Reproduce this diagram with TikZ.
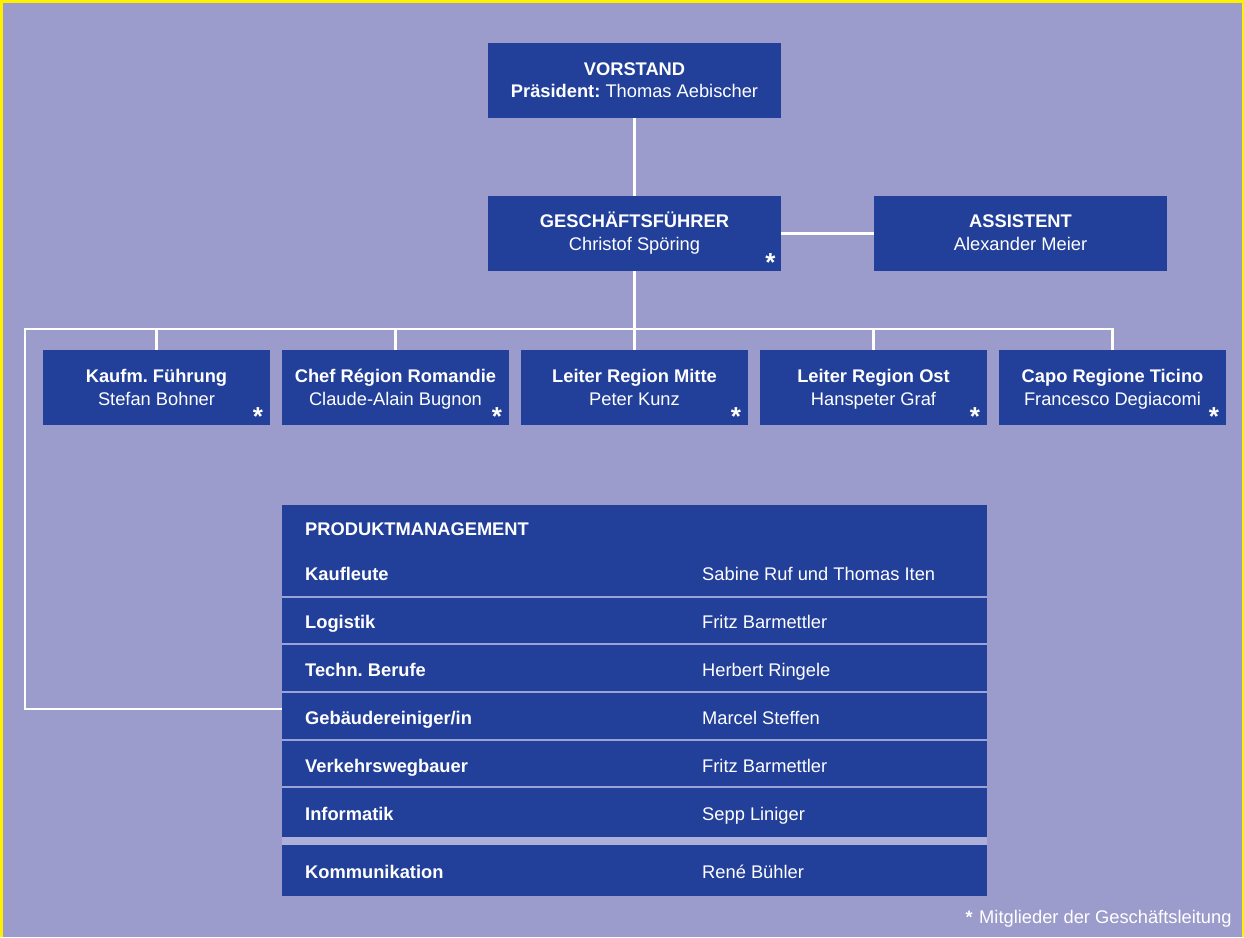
\documentclass[tikz,border=0pt]{standalone}
\usepackage{fontspec}
\setmainfont{Liberation Sans}
\frenchspacing
\definecolor{bgc}{HTML}{9B9BCC}
\definecolor{boxc}{HTML}{22409A}
\definecolor{sepc}{HTML}{9AA3D8}
\definecolor{bandc}{HTML}{ADB0D8}
\definecolor{yel}{HTML}{FFF000}
\tikzset{
  box/.style={fill=boxc, inner sep=0pt, minimum height=75pt},
  bigbox/.style={box, minimum width=293pt},
  smallbox/.style={box, minimum width=227pt},
  txt/.style={text=white, inner sep=0pt, anchor=base, font=\fontsize{18.3}{22}\selectfont\frenchspacing},
  ttl/.style={txt, font=\fontsize{18.3}{22}\selectfont\bfseries\frenchspacing},
  tl/.style={ttl, anchor=base west},
  tr/.style={txt, anchor=base west},
  star/.style={text=white, inner sep=0pt, font=\fontsize{26}{26}\selectfont\bfseries},
  conn/.style={draw=white, line width=2.6pt},
  sepline/.style={draw=sepc, line width=1.8pt}
}
\begin{document}
\begin{tikzpicture}[x=1pt,y=-1pt]
\useasboundingbox (0,0) rectangle (1244,937);
\fill[bgc] (0,0) rectangle (1244,937);
\fill[yel] (0,0) rectangle (1244,3);
\fill[yel] (0,0) rectangle (3,937);
\fill[yel] (1242,0) rectangle (1244,937);

% top boxes
\node[bigbox] (vs) at (634.5,80.5) {};
\node[ttl] (vsT) at (634.5,75) {VORSTAND};
\node[txt] (vsN) at (634.5,97.5) {\textbf{Präsident:} Thomas Aebischer};

\node[bigbox] (gf) at (634.5,233.5) {};
\node[ttl] (gfT) at (634.5,227.5) {GESCHÄFTSFÜHRER};
\node[txt] (gfN) at (634.5,250) {Christof Spöring};
\node[star] (gfS) at (770.5,263) {*};

\node[bigbox] (as) at (1020.5,233.5) {};
\node[ttl] (asT) at (1020.5,227.5) {ASSISTENT};
\node[txt] (asN) at (1020.5,250) {Alexander Meier};

% second row
\node[smallbox] (k1) at (156.5,387.5) {};
\node[ttl] (k1T) at (156.5,382) {Kaufm. Führung};
\node[txt] (k1N) at (156.5,405.5) {Stefan Bohner};
\node[star] (k1S) at (258,417) {*};

\node[smallbox] (k2) at (395.5,387.5) {};
\node[ttl] (k2T) at (395.5,382) {Chef Région Romandie};
\node[txt] (k2N) at (395.5,405.5) {Claude-Alain Bugnon};
\node[star] (k2S) at (497,417) {*};

\node[smallbox] (k3) at (634.5,387.5) {};
\node[ttl] (k3T) at (634.5,382) {Leiter Region Mitte};
\node[txt] (k3N) at (634.5,405.5) {Peter Kunz};
\node[star] (k3S) at (736,417) {*};

\node[smallbox] (k4) at (873.5,387.5) {};
\node[ttl] (k4T) at (873.5,382) {Leiter Region Ost};
\node[txt] (k4N) at (873.5,405.5) {Hanspeter Graf};
\node[star] (k4S) at (975,417) {*};

\node[smallbox] (k5) at (1112.5,387.5) {};
\node[ttl] (k5T) at (1112.5,382) {Capo Regione Ticino};
\node[txt] (k5N) at (1112.5,405.5) {Francesco Degiacomi};
\node[star] (k5S) at (1214,417) {*};

% product management table
\node[box, minimum width=705pt, minimum height=391pt] (pm) at (634.5,700.5) {};
\foreach \d in {92,139,187,235,282}{
  \draw[sepline] ([yshift=-\d pt]pm.north west) -- ([yshift=-\d pt]pm.north east);
}
\fill[bandc] ([yshift=-332pt]pm.north west) rectangle ([yshift=-340pt]pm.north east);

\node[tl] (h0) at (305,535) {PRODUKTMANAGEMENT};
\node[tl] (a1) at (305,580) {Kaufleute};
\node[tr] (b1) at (702,580) {Sabine Ruf und Thomas Iten};
\node[tl] (a2) at (305,628) {Logistik};
\node[tr] (b2) at (702,628) {Fritz Barmettler};
\node[tl] (a3) at (305,676) {Techn. Berufe};
\node[tr] (b3) at (702,676) {Herbert Ringele};
\node[tl] (a4) at (305,724) {Gebäudereiniger/in};
\node[tr] (b4) at (702,724) {Marcel Steffen};
\node[tl] (a5) at (305,772) {Verkehrswegbauer};
\node[tr] (b5) at (702,772) {Fritz Barmettler};
\node[tl] (a6) at (305,820) {Informatik};
\node[tr] (b6) at (702,820) {Sepp Liniger};
\node[tl] (a7) at (305,878) {Kommunikation};
\node[tr] (b7) at (702,878) {René Bühler};

% connectors
\coordinate (bus) at (25,329);
\coordinate (lj) at (25,709);
\draw[conn] (vs.south) -- (gf.north);
\draw[conn] (gf.east) -- (as.west);
\draw[conn] (gf.south) -- (gf.south |- bus);
\draw[conn] (k5.north) |- (bus) -- (lj) -- (lj -| pm.west);
\foreach \k in {k1,k2,k3,k4}{
  \draw[conn] (\k.north) -- (\k.north |- bus);
}

% footnote
\node[text=white, inner sep=0pt, font=\fontsize{18}{18}\selectfont\bfseries] (fnS) at (969,917) {*};
\node[txt, anchor=base west] (fn) at (979,923) {Mitglieder der Geschäftsleitung};
\end{tikzpicture}
\end{document}
